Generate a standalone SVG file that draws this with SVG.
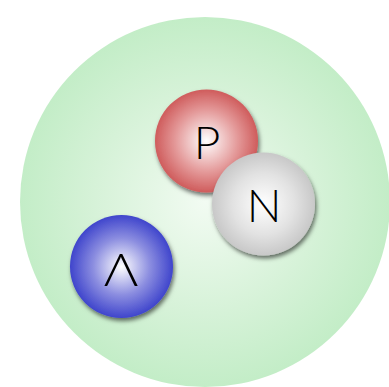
<svg xmlns="http://www.w3.org/2000/svg" width="389" height="387" viewBox="0 0 389 387">
<defs>
<radialGradient id="gBg" cx="0.5" cy="0.5" r="0.5">
<stop offset="0" stop-color="#f2fbf2"/>
<stop offset="0.6" stop-color="#d6f2d8"/>
<stop offset="1" stop-color="#c3edc7"/>
</radialGradient>
<radialGradient id="gP" cx="0.5" cy="0.5" r="0.5">
<stop offset="0" stop-color="#ffffff"/>
<stop offset="0.6" stop-color="#e49a9a"/>
<stop offset="1" stop-color="#cf5c5c"/>
</radialGradient>
<radialGradient id="gN" cx="0.5" cy="0.5" r="0.5">
<stop offset="0" stop-color="#ffffff"/>
<stop offset="0.6" stop-color="#e2e2e2"/>
<stop offset="1" stop-color="#c8c8c8"/>
</radialGradient>
<radialGradient id="gL" cx="0.5" cy="0.5" r="0.5">
<stop offset="0" stop-color="#ffffff"/>
<stop offset="0.55" stop-color="#8c8ee0"/>
<stop offset="1" stop-color="#3f45cc"/>
</radialGradient>
<filter id="sh" x="-20%" y="-20%" width="150%" height="150%">
<feDropShadow dx="1.5" dy="3" stdDeviation="2" flood-color="#000" flood-opacity="0.55"/>
</filter>
</defs>
<style>
.lbl{font-family:Lato,"DejaVu Sans",sans-serif;font-size:46px;fill:#000;text-anchor:middle;font-weight:300}
</style>
<g id="nucleus">
<circle cx="205" cy="202" r="185" fill="url(#gBg)"/>
</g>
<g id="connectors"/>
<g id="proton">
<circle cx="206.5" cy="141" r="51.5" fill="url(#gP)" filter="url(#sh)"/>
<text class="lbl" x="207" y="159">P</text>
</g>
<g id="neutron">
<circle cx="263.5" cy="204" r="51.5" fill="url(#gN)" filter="url(#sh)"/>
<text class="lbl" x="264" y="222">N</text>
</g>
<g id="lambda">
<circle cx="121.5" cy="266.5" r="51.5" fill="url(#gL)" filter="url(#sh)"/>
<text class="lbl" x="121" y="286" transform="translate(121 0) scale(1.15 1) translate(-121 0)">Λ</text>
</g>
</svg>
